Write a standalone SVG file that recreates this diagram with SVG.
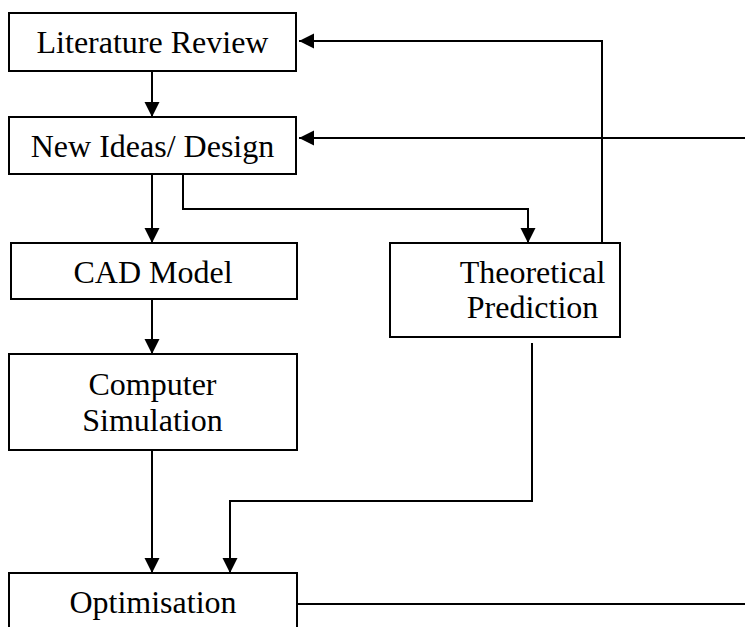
<svg xmlns="http://www.w3.org/2000/svg" width="745" height="627" viewBox="0 0 745 627">
<style>
.box{fill:#fff;stroke:#000;stroke-width:2}
.lbl{font-family:"Liberation Serif","Times New Roman",serif;font-size:32px;fill:#000;text-anchor:middle}
.con{fill:none;stroke:#000;stroke-width:2}
</style>
<defs>
<marker id="ah" markerUnits="userSpaceOnUse" markerWidth="16" markerHeight="16" refX="15" refY="8" orient="auto">
<path d="M0,0.5 L15,8 L0,15.5 z" fill="#000"/>
</marker>
</defs>
<rect width="745" height="627" fill="#fff"/>
<g id="connectors">
<path class="con" d="M152,71 V117" marker-end="url(#ah)"/>
<path class="con" d="M152,174 V243" marker-end="url(#ah)"/>
<path class="con" d="M183,174 V209 H528 V243" marker-end="url(#ah)"/>
<path class="con" d="M602,243 V41 H299" marker-end="url(#ah)"/>
<path class="con" d="M745,138 H299" marker-end="url(#ah)"/>
<path class="con" d="M152,299 V354" marker-end="url(#ah)"/>
<path class="con" d="M152,451 V573" marker-end="url(#ah)"/>
<path class="con" d="M532,343 V501 H230 V573" marker-end="url(#ah)"/>
<path class="con" d="M297,604 H745"/>
</g>
<g id="literature-review">
<rect class="box" x="9" y="13" width="287" height="58"/>
<text class="lbl" x="152.5" y="53">Literature Review</text>
</g>
<g id="new-ideas-design">
<rect class="box" x="9" y="117" width="287" height="57"/>
<text class="lbl" x="152.5" y="157">New Ideas/ Design</text>
</g>
<g id="cad-model">
<rect class="box" x="11" y="243" width="286" height="56"/>
<text class="lbl" x="153" y="283">CAD Model</text>
</g>
<g id="theoretical-prediction">
<rect class="box" x="390" y="243" width="230" height="94"/>
<text class="lbl" x="532.5" y="283">Theoretical</text>
<text class="lbl" x="532.5" y="318">Prediction</text>
</g>
<g id="computer-simulation">
<rect class="box" x="9" y="354" width="288" height="96"/>
<text class="lbl" x="152.5" y="395">Computer</text>
<text class="lbl" x="152.5" y="431">Simulation</text>
</g>
<g id="optimisation">
<rect class="box" x="9" y="573" width="288" height="60"/>
<text class="lbl" x="153" y="613">Optimisation</text>
</g>
</svg>
